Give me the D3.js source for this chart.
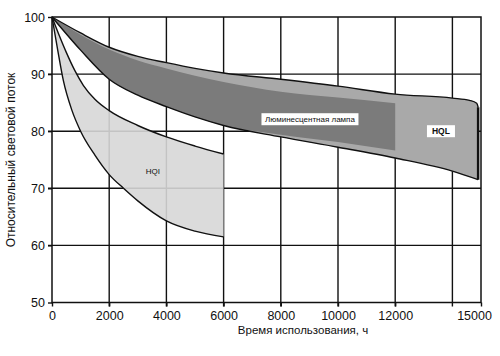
<!DOCTYPE html>
<html><head><meta charset="utf-8">
<script src="https://cdn.jsdelivr.net/npm/d3@7"></script>
<style>
body{margin:0;background:#fff;}
svg{display:block;}
</style></head>
<body>
<svg id="c" width="500" height="356"></svg>
<script>
// ---- data ----
const xTickValues = [0, 2000, 4000, 6000, 8000, 10000, 12000, 15000];
const xTickLabels = ["0", "2000", "4000", "6000", "8000", "10000", "12000", "15000"];
const xGrid = [2000, 4000, 6000, 8000, 10000, 12000, 14000];
const yTickValues = [50, 60, 70, 80, 90, 100];
const yGrid = [60, 70, 80, 90];

// HQL band (light grey)
const hqlUpper = [[0,100],[1000,97.2],[2000,94.7],[3000,93.1],[4000,92],[5000,91],[6000,90.2],[8000,89.1],[10000,87.9],[12000,86.5],[14000,85.8],[14600,85.4],[14850,84.9],[14900,84.2]];
const hqlLower = [[0,100],[1000,94.2],[2000,89.1],[3000,86.3],[4000,84.3],[5000,82.5],[6000,81],[8000,79],[10000,77.2],[12000,75.3],[14000,73],[14900,71.5]];
// Fluorescent lamp band (dark grey)
const flUpper = [[0,100],[1000,96.9],[2000,94.3],[3000,92.4],[4000,91],[5000,89.7],[6000,88.6],[7000,87.7],[8000,86.9],[10000,85.9],[12000,84.9]];
const flLower = [[0,100],[1000,94.2],[2000,89.1],[3000,86.3],[4000,84.3],[5000,82.5],[6000,81],[8000,79.4],[10000,78.1],[12000,76.6]];
// HQI band (very light grey)
const hqiUpper = [[0,100],[250,96.8],[500,93.8],[800,90.6],[1100,88],[1500,85.6],[2000,83.6],[3000,81],[4000,79],[5000,77.4],[6000,76]];
const hqiLower = [[0,100],[200,94.2],[400,88.8],[700,83.6],[1000,80],[1500,75.8],[2000,72.4],[2500,70],[3000,67.8],[4000,64.3],[5000,62.5],[6000,61.5]];

const labels = {fl: "Люминесцентная лампа", hql: "HQL", hqi: "HQI"};
const xTitle = "Время использования, ч";
const yTitle = "Относительный световой поток";

// ---- drawing ----
const svg = d3.select("#c");
const x = d3.scaleLinear().domain([0, 15000]).range([52, 481]);
const y = d3.scaleLinear().domain([50, 100]).range([302.5, 17]);
const FONT = "Liberation Sans, Arial, sans-serif";

const line = d3.line().x(d => x(d[0])).y(d => y(d[1])).curve(d3.curveMonotoneX);
function bandPath(up, lo) {
  const a = line(up);
  const b = line(lo.slice().reverse());
  return a + "L" + b.slice(1) + "Z";
}

// grid
const g = svg.append("g");
g.selectAll(".gx").data(xGrid).join("line")
  .attr("x1", d => x(d)).attr("x2", d => x(d)).attr("y1", y(100)).attr("y2", y(50) + 4)
  .attr("stroke", "#111").attr("stroke-width", 1.4);
g.selectAll(".gy").data(yGrid).join("line")
  .attr("x1", x(0) - 4).attr("x2", x(15000)).attr("y1", d => y(d)).attr("y2", d => y(d))
  .attr("stroke", "#111").attr("stroke-width", 1.4);

// bands
svg.append("path").attr("d", bandPath(hqlUpper, hqlLower)).attr("fill", "#a9a9a9");
svg.append("path").attr("d", bandPath(flUpper, flLower)).attr("fill", "#7b7b7b");
svg.append("path").attr("d", bandPath(hqiUpper, hqiLower)).attr("fill", "#d7d7d7").attr("fill-opacity", 0.9);

// outlines
const ol = svg.append("g").attr("fill", "none").attr("stroke", "#111").attr("stroke-width", 1.4);
ol.append("path").attr("d", line(hqlUpper));
ol.append("path").attr("d", line(hqlLower));
ol.append("path").attr("d", line(hqiUpper));
ol.append("path").attr("d", line(hqiLower));
ol.append("line")
  .attr("x1", x(hqlUpper[hqlUpper.length-1][0])).attr("x2", x(hqlLower[hqlLower.length-1][0]))
  .attr("y1", y(hqlUpper[hqlUpper.length-1][1])).attr("y2", y(hqlLower[hqlLower.length-1][1]))
  .attr("stroke-width", 2.5);

// frame
svg.append("rect").attr("x", x(0)).attr("y", y(100)).attr("width", x(15000) - x(0)).attr("height", y(50) - y(100))
  .attr("fill", "none").attr("stroke", "#111").attr("stroke-width", 1.5);

// axes
const xAxis = svg.append("g").attr("transform", `translate(0,${y(50)})`)
  .call(d3.axisBottom(x).tickValues(xTickValues).tickFormat((d, i) => xTickLabels[i]).tickSize(4).tickPadding(5));
const yAxis = svg.append("g").attr("transform", `translate(${x(0)},0)`)
  .call(d3.axisLeft(y).tickValues(yTickValues).tickSize(4).tickPadding(3));
[xAxis, yAxis].forEach(a => {
  a.select(".domain").remove();
  a.selectAll(".tick line").attr("stroke", "#111").attr("stroke-width", 1.4);
  a.selectAll(".tick text").attr("font-family", FONT).attr("font-size", 12.5).attr("fill", "#111");
});
xAxis.selectAll(".tick text").filter(d => d === 15000).attr("dx", -7);

// titles
svg.append("text").attr("x", 303).attr("y", 334).attr("text-anchor", "middle")
  .attr("font-family", FONT).attr("font-size", 11.5).attr("fill", "#111").text(xTitle);
svg.append("text").attr("transform", "translate(15,160) rotate(-90)").attr("text-anchor", "middle")
  .attr("font-family", FONT).attr("font-size", 12).attr("fill", "#111").text(yTitle);

// band labels
function boxLabel(cx, cy, w, h, txt, fs, bold) {
  svg.append("rect").attr("x", cx - w/2).attr("y", cy - h/2).attr("width", w).attr("height", h).attr("fill", "#fff");
  svg.append("text").attr("x", cx).attr("y", cy).attr("dy", "0.36em").attr("text-anchor", "middle")
    .attr("font-family", FONT).attr("font-size", fs)
    .attr("font-weight", bold ? "bold" : "normal").attr("fill", "#111").text(txt);
}
boxLabel(x(9020), y(82.1), 97, 12, labels.fl, 8, false);
boxLabel(x(13600), y(80), 28, 12, labels.hql, 8.5, true);
svg.append("text").attr("x", x(3530)).attr("y", y(73)).attr("dy", "0.36em").attr("text-anchor", "middle")
  .attr("font-family", FONT).attr("font-size", 8).attr("fill", "#111").text(labels.hqi);
</script>
</body></html>
